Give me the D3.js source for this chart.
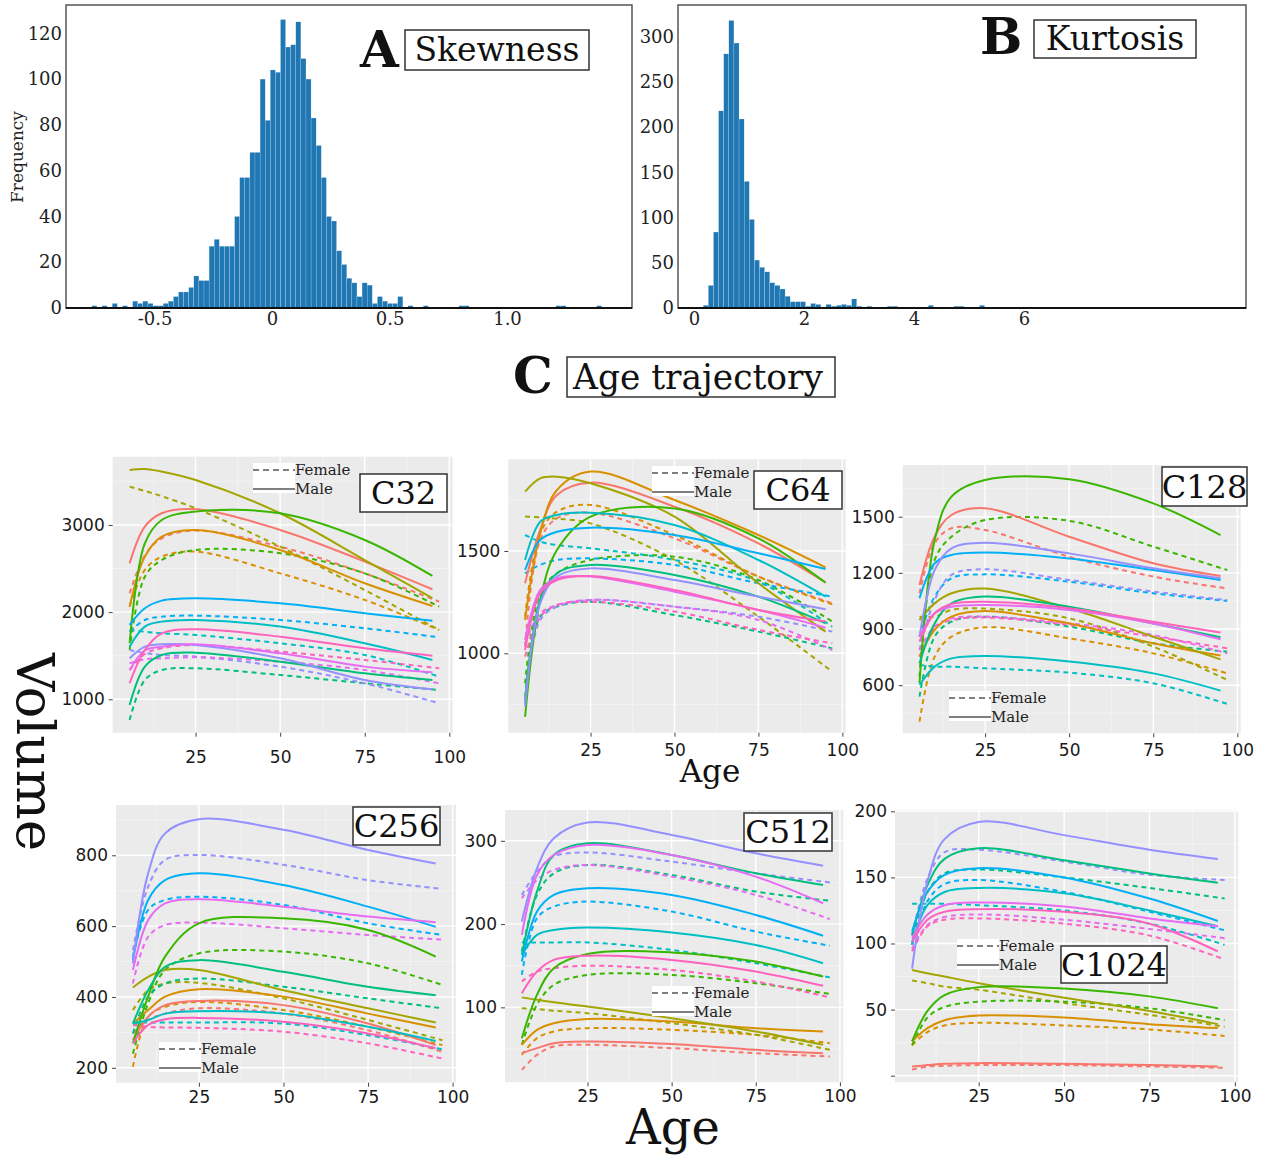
<!DOCTYPE html>
<html>
<head>
<meta charset="utf-8">
<script src="https://cdn.jsdelivr.net/npm/d3@7"></script>
<style>
body { margin: 0; background: #fff; }
</style>
</head>
<body>
<svg id="chart" width="1261" height="1158"></svg>
<script>
// ---- histogram data ----
var skewStart = -0.767, skewBin = 0.0217;
var skewCounts = [1,0,1,0,2,0,1,0,3,2, 3,2,1,1,2,3,5,7,7,9, 14,12,12,27,30,27,27,27,40,57,
    57,68,68,100,82,104,103,126,114,115, 125,109,100,83,71,57,40,38,25,19, 13,11,5,11,10,2,5,3,2,2,
    5,0,1,0,0,1,0,0,0,0, 0,0,1,1,0,0,0,0,0,0, 0,0,0,0,0,0,0,0,0,0, 0,1,1,0,0,0,0,0,0,1];
var skewTicks = [-0.5, 0, 0.5, 1.0];
var skewTickLabels = ["-0.5", "0", "0.5", "1.0"];
var skewYTicks = [0, 20, 40, 60, 80, 100, 120];

var kurtStart = 0.168, kurtBin = 0.093;
var kurtCounts = [3,25,84,218,281,318,293,209,140,98, 53,45,40,28,25,21,13,7,7,7, 2,5,4,1,4,2,3,4,3,10,
    2,1,2,1,1,0,2,2,1,0, 1,0,1,0,3,1,0,1,0,2, 2,0,1,0,3,0,0,1,0,0, 1,0,0,1,1,1,0,0,0,0,
    0,1,1,0,0,0,0,0,0,0, 0,0,0,0,0,0,0,0,0,0, 0,0,0,0,0,0,0,0,0,1];
var kurtTicks = [0, 2, 4, 6];
var kurtYTicks = [0, 50, 100, 150, 200, 250, 300];

// ---- age trajectory data ----
var groupColors = ["#F8766D", "#D89000", "#A3A500", "#39B600", "#00BF7D", "#00BFC4", "#00B0F6", "#9590FF", "#E76BF3", "#FF62BC"];
var agesMale = [5.5, 10, 15, 25, 50, 75, 95];
var agesFemale = [5.5, 10, 15, 25, 50, 75, 97];
var ageTicks = [25, 50, 75, 100];

var c32Male = [
    [2560, 2981, 3134, 3180, 2943, 2580, 2262],
    [2063, 2637, 2866, 2943, 2713, 2331, 2071],
    [3631, 3642, 3612, 3516, 3134, 2598, 2160],
    [1642, 2790, 3057, 3153, 3134, 2828, 2415],
    [935, 1375, 1509, 1535, 1432, 1298, 1222],
    [1604, 1834, 1891, 1910, 1834, 1642, 1451],
    [1853, 2044, 2132, 2159, 2101, 1987, 1902],
    [1470, 1604, 1631, 1623, 1470, 1222, 1115],
    [1336, 1560, 1604, 1631, 1528, 1375, 1310],
    [1184, 1566, 1757, 1803, 1719, 1585, 1501]];
var c32Female = [
    [2216, 2650, 2847, 2935, 2751, 2445, 2120],
    [2063, 2484, 2637, 2694, 2445, 2140, 1795],
    [3440, 3390, 3330, 3191, 2751, 2254, 1795],
    [1566, 2407, 2598, 2713, 2675, 2445, 2063],
    [763, 1222, 1336, 1356, 1279, 1184, 1107],
    [1795, 1775, 1757, 1738, 1642, 1509, 1260],
    [1776, 1910, 1948, 1960, 1910, 1815, 1711],
    [1566, 1530, 1509, 1490, 1375, 1184, 954],
    [1413, 1460, 1470, 1482, 1432, 1336, 1184],
    [1336, 1520, 1585, 1623, 1547, 1451, 1356]];
var c32Ticks = [1000, 2000, 3000];

var c64Male = [
    [1342, 1603, 1774, 1834, 1717, 1537, 1347],
    [1163, 1586, 1798, 1888, 1749, 1578, 1420],
    [1790, 1855, 1863, 1831, 1668, 1342, 1106],
    [690, 1261, 1505, 1668, 1708, 1562, 1345],
    [756, 1261, 1391, 1432, 1383, 1277, 1147],
    [1456, 1643, 1676, 1687, 1627, 1456, 1277],
    [1407, 1554, 1594, 1614, 1578, 1489, 1412],
    [740, 1244, 1375, 1415, 1358, 1277, 1215],
    [1065, 1309, 1366, 1375, 1301, 1212, 1125],
    [1016, 1293, 1358, 1378, 1309, 1212, 1155]];
var c64Female = [
    [1033, 1554, 1660, 1687, 1562, 1375, 1244],
    [1179, 1586, 1692, 1725, 1578, 1375, 1239],
    [1668, 1664, 1658, 1635, 1456, 1179, 910],
    [853, 1293, 1391, 1456, 1472, 1358, 1155],
    [788, 1179, 1228, 1252, 1187, 1106, 1024],
    [1578, 1546, 1529, 1513, 1456, 1350, 1130],
    [1391, 1432, 1456, 1464, 1432, 1342, 1277],
    [772, 1163, 1228, 1261, 1228, 1179, 1106],
    [1049, 1195, 1236, 1261, 1228, 1163, 1016],
    [984, 1179, 1236, 1252, 1204, 1114, 1049]];
var c64Ticks = [1000, 1500];

var c128Male = [
    [1135, 1393, 1509, 1545, 1393, 1251, 1183],
    [752, 895, 966, 996, 930, 824, 758],
    [948, 1037, 1091, 1116, 1011, 859, 738],
    [610, 1375, 1607, 1696, 1700, 1571, 1402],
    [717, 930, 1037, 1073, 1019, 930, 856],
    [601, 699, 743, 756, 726, 663, 571],
    [1064, 1251, 1295, 1308, 1277, 1215, 1162],
    [859, 1215, 1331, 1361, 1304, 1224, 1171],
    [859, 984, 1019, 1028, 1002, 930, 845],
    [832, 984, 1034, 1046, 1011, 939, 881]];
var c128Female = [
    [1091, 1358, 1438, 1429, 1286, 1180, 1117],
    [405, 752, 859, 909, 850, 770, 663],
    [966, 966, 1002, 1009, 957, 806, 628],
    [645, 1269, 1393, 1482, 1478, 1340, 1215],
    [539, 859, 939, 966, 913, 824, 779],
    [708, 699, 699, 690, 667, 610, 500],
    [859, 1073, 1171, 1192, 1153, 1091, 1050],
    [788, 1055, 1189, 1219, 1162, 1100, 1055],
    [788, 913, 957, 966, 930, 868, 770],
    [752, 904, 948, 961, 922, 859, 797]];
var c128Ticks = [600, 900, 1200, 1500];

var c256Male = [
    [278, 344, 377, 389, 377, 325, 264],
    [325, 363, 401, 422, 401, 353, 314],
    [427, 457, 476, 476, 419, 368, 328],
    [269, 401, 514, 608, 622, 589, 514],
    [325, 419, 485, 504, 471, 429, 405],
    [325, 335, 353, 360, 353, 316, 276],
    [504, 674, 730, 749, 716, 655, 598],
    [495, 749, 862, 902, 872, 815, 777],
    [476, 617, 664, 676, 655, 627, 611],
    [269, 321, 337, 341, 330, 297, 255]];
var c256Female = [
    [297, 335, 353, 368, 353, 306, 245],
    [203, 344, 372, 386, 363, 316, 264],
    [363, 419, 438, 440, 396, 335, 278],
    [240, 382, 476, 523, 528, 495, 434],
    [297, 401, 438, 452, 429, 396, 368],
    [328, 328, 328, 328, 325, 292, 252],
    [514, 646, 674, 683, 660, 608, 575],
    [532, 711, 787, 801, 773, 730, 705],
    [438, 570, 603, 610, 594, 575, 562],
    [321, 316, 314, 313, 302, 269, 226]];
var c256Ticks = [200, 400, 600, 800];

var c512Male = [
    [45, 51, 57, 59, 56, 49, 45],
    [55, 73, 81, 86, 83, 75, 71],
    [112, 109, 106, 101, 87, 71, 55],
    [63, 115, 147, 164, 166, 155, 137],
    [163, 239, 283, 297, 283, 261, 247],
    [163, 187, 193, 196, 190, 175, 153],
    [155, 215, 235, 243, 235, 211, 186],
    [203, 267, 303, 322, 307, 285, 270],
    [187, 259, 283, 295, 283, 257, 225],
    [117, 143, 157, 162, 157, 143, 126]];
var c512Female = [
    [25, 43, 53, 55, 51, 45, 41],
    [43, 63, 71, 75, 73, 67, 57],
    [99, 98, 96, 93, 81, 67, 49],
    [55, 103, 127, 139, 139, 129, 116],
    [167, 235, 261, 271, 259, 239, 228],
    [178, 178, 178, 178, 169, 153, 136],
    [139, 207, 221, 227, 215, 191, 174],
    [235, 263, 281, 286, 275, 261, 250],
    [231, 253, 265, 271, 257, 235, 206],
    [131, 143, 147, 150, 145, 131, 112]];
var c512Ticks = [100, 200, 300];

var c1024Male = [
    [7, 8, 9, 9.5, 9, 8, 7],
    [26, 36, 42, 45.5, 44, 39, 36],
    [80, 77.5, 75, 70, 59, 49, 39],
    [26, 49, 61, 67, 66, 60, 51],
    [106, 144, 164, 172, 163, 153, 146],
    [101, 129, 139, 142, 138, 125, 113],
    [109, 139, 152, 157, 150, 134, 117],
    [81, 147, 179, 192, 182, 171, 164],
    [104, 122, 129, 131, 128, 119, 113],
    [101, 118, 124, 126, 124, 115, 94]];
var c1024Female = [
    [4.5, 7, 7.5, 8, 8, 7, 6],
    [23, 33, 38, 40, 38, 35, 30],
    [72, 70, 67.4, 65, 55, 46, 37],
    [23, 44, 52, 56, 56, 51, 42],
    [99, 139, 153, 156, 150, 142, 134],
    [130, 130, 130, 129, 125, 115, 99],
    [99, 132, 145, 148, 139, 124, 110],
    [106, 149, 169, 171, 162, 152, 148],
    [96, 114, 120, 122, 118, 111, 104],
    [94, 113, 118, 119, 115, 106, 88]];
var c1024Ticks = [0, 50, 100, 150, 200];

var serif = "'DejaVu Serif', serif";
var sans = "'DejaVu Sans', sans-serif";
var svg = d3.select("#chart");
svg.append("rect").attr("width", 1261).attr("height", 1158).attr("fill", "white");

/**
    Draws one histogram panel with its frame, tick labels and title
 */
function drawHistogram(opts) {
    var x = d3.scaleLinear().domain(opts.xDomain).range([opts.left, opts.right]);
    var y = d3.scaleLinear().domain(opts.yDomain).range([opts.bottom, opts.yTop]);
    var g = svg.append("g");
    var bins = opts.counts.map(function (c, i) {
        return {x0: opts.start + i * opts.width, x1: opts.start + (i + 1) * opts.width, n: c};
    }).filter(function (b) { return b.n > 0; });
    g.selectAll("rect.bar").data(bins).enter().append("rect")
        .attr("x", function (d) { return x(d.x0); })
        .attr("width", function (d) { return x(d.x1) - x(d.x0); })
        .attr("y", function (d) { return y(d.n); })
        .attr("height", function (d) { return y(0) - y(d.n); })
        .attr("fill", "#1f77b4")
        .attr("stroke", "#ffffff").attr("stroke-width", 0.3).attr("stroke-opacity", 0.6);

    // frame
    g.append("rect").attr("x", opts.left).attr("y", opts.top)
        .attr("width", opts.right - opts.left).attr("height", opts.bottom - opts.top)
        .attr("fill", "none").attr("stroke", "#555").attr("stroke-width", 1.5);
    g.append("line").attr("x1", opts.left).attr("x2", opts.right)
        .attr("y1", opts.bottom).attr("y2", opts.bottom).attr("stroke", "#111").attr("stroke-width", 2);

    var xAxis = g.append("g").attr("transform", "translate(0," + opts.bottom + ")")
        .call(d3.axisBottom(x).tickValues(opts.xTicks).tickSize(0).tickPadding(4)
            .tickFormat(function (d, i) { return opts.xLabels ? opts.xLabels[i] : d; }));
    var yAxis = g.append("g").attr("transform", "translate(" + opts.left + ",0)")
        .call(d3.axisLeft(y).tickValues(opts.yTicks).tickSize(0).tickPadding(4));
    [xAxis, yAxis].forEach(function (a) {
        a.select(".domain").remove();
        a.selectAll("text").attr("font-family", serif).attr("font-size", 18).attr("fill", "#222");
    });

    g.append("text").attr("x", opts.letter[0]).attr("y", opts.letter[1])
        .attr("font-family", serif).attr("font-weight", "bold").attr("font-size", 50)
        .attr("fill", "#111").text(opts.letterText);
    g.append("rect").attr("x", opts.box[0]).attr("y", opts.box[1])
        .attr("width", opts.box[2]).attr("height", opts.box[3])
        .attr("fill", "white").attr("stroke", "#333").attr("stroke-width", 1.5);
    g.append("text").attr("x", opts.box[0] + opts.box[2] / 2).attr("y", opts.box[1] + opts.box[3] / 2 + 11)
        .attr("text-anchor", "middle").attr("font-family", serif).attr("font-size", 33)
        .attr("fill", "#111").text(opts.title);
}

drawHistogram({
    counts: skewCounts, start: skewStart, width: skewBin,
    xDomain: [-0.877, 1.532], yDomain: [0, 120],
    left: 66, right: 632, top: 5, bottom: 308, yTop: 33.3,
    xTicks: skewTicks, xLabels: skewTickLabels, yTicks: skewYTicks,
    letter: [360, 67], letterText: "A", box: [405, 30, 184, 40], title: "Skewness"
});
drawHistogram({
    counts: kurtCounts, start: kurtStart, width: kurtBin,
    xDomain: [-0.291, 10.036], yDomain: [0, 300],
    left: 678, right: 1246, top: 5, bottom: 308, yTop: 36.7,
    xTicks: kurtTicks, yTicks: kurtYTicks,
    letter: [980, 54], letterText: "B", box: [1034, 20, 162, 38], title: "Kurtosis"
});

svg.append("text").attr("transform", "translate(23,157) rotate(-90)")
    .attr("text-anchor", "middle").attr("font-family", serif).attr("font-size", 17)
    .attr("fill", "#222").text("Frequency");

// ---- C title ----
svg.append("text").attr("x", 513).attr("y", 393).attr("font-family", serif)
    .attr("font-weight", "bold").attr("font-size", 50).attr("fill", "#111").text("C");
svg.append("rect").attr("x", 567).attr("y", 357).attr("width", 268).attr("height", 40)
    .attr("fill", "white").attr("stroke", "#333").attr("stroke-width", 1.5);
svg.append("text").attr("x", 573).attr("y", 389).attr("font-family", serif).attr("font-size", 36)
    .attr("textLength", 250).attr("lengthAdjust", "spacingAndGlyphs")
    .attr("fill", "#111").text("Age trajectory");

// ---- trajectory panels ----
var panels = [
    {title: "C32", male: c32Male, female: c32Female, ticks: c32Ticks, yDomain: [617, 3783], xPad: 14,
        x0: 112.7, x1: 452.7, y0: 456.7, y1: 732.7, legend: [253, 463], box: [360, 474, 87, 38]},
    {title: "C64", male: c64Male, female: c64Female, ticks: c64Ticks, yDomain: [612, 1948], xPad: 7,
        x0: 508.3, x1: 845.7, y0: 459.3, y1: 732.7, legend: [652, 466], box: [754, 471, 88, 38]},
    {title: "C128", male: c128Male, female: c128Female, ticks: c128Ticks, yDomain: [343, 1776], xPad: 7,
        x0: 902.7, x1: 1240.7, y0: 465, y1: 733.3, legend: [949, 691], box: [1162, 467, 85, 39]},
    {title: "C256", male: c256Male, female: c256Female, ticks: c256Ticks, yDomain: [158, 942], xPad: 4,
        x0: 116, x1: 456, y0: 805, y1: 1082.7, legend: [159, 1042], box: [353, 807, 87, 38]},
    {title: "C512", male: c512Male, female: c512Female, ticks: c512Ticks, yDomain: [10, 337], xPad: 4,
        x0: 505, x1: 843.3, y0: 810, y1: 1082.3, legend: [652, 986], box: [744, 813, 88, 38]},
    {title: "C1024", male: c1024Male, female: c1024Female, ticks: c1024Ticks, yDomain: [-5, 201], xPad: 4,
        x0: 895, x1: 1238.3, y0: 810, y1: 1082.3, legend: [957, 939], box: [1061, 946, 106, 37], hideZero: true}
];

function drawPanel(p) {
    var x = d3.scaleLinear().domain([0.5, 101]).range([p.x0, p.x1]);
    var y = d3.scaleLinear().domain(p.yDomain).range([p.y1, p.y0]);
    var g = svg.append("g");
    g.append("rect").attr("x", p.x0).attr("y", p.y0).attr("width", p.x1 - p.x0).attr("height", p.y1 - p.y0)
        .attr("fill", "#EBEBEB");

    var step = p.ticks[1] - p.ticks[0];
    var minorY = [];
    for (var v = p.ticks[0] - step / 2; v < p.yDomain[1]; v += step) {
        if (v > p.yDomain[0]) minorY.push(v);
    }
    var minorX = [12.5, 37.5, 62.5, 87.5];
    g.selectAll("line.minx").data(minorX).enter().append("line")
        .attr("x1", x).attr("x2", x).attr("y1", p.y0).attr("y2", p.y1)
        .attr("stroke", "#f7f7f7").attr("stroke-width", 0.7);
    g.selectAll("line.miny").data(minorY).enter().append("line")
        .attr("y1", y).attr("y2", y).attr("x1", p.x0).attr("x2", p.x1)
        .attr("stroke", "#f7f7f7").attr("stroke-width", 0.7);
    g.selectAll("line.majx").data(ageTicks).enter().append("line")
        .attr("x1", x).attr("x2", x).attr("y1", p.y0).attr("y2", p.y1)
        .attr("stroke", "white").attr("stroke-width", 1.4);
    g.selectAll("line.majy").data(p.ticks).enter().append("line")
        .attr("y1", y).attr("y2", y).attr("x1", p.x0).attr("x2", p.x1)
        .attr("stroke", "white").attr("stroke-width", 1.4);

    var line = d3.line().curve(d3.curveCatmullRom.alpha(0.5))
        .x(function (d) { return x(d[0]); }).y(function (d) { return y(d[1]); });
    var series = [];
    p.female.forEach(function (vals, i) {
        series.push({color: groupColors[i], dash: "5,4", pts: d3.zip(agesFemale, vals)});
    });
    p.male.forEach(function (vals, i) {
        series.push({color: groupColors[i], dash: null, pts: d3.zip(agesMale, vals)});
    });
    g.selectAll("path.curve").data(series).enter().append("path")
        .attr("d", function (d) { return line(d.pts); })
        .attr("fill", "none").attr("stroke", function (d) { return d.color; })
        .attr("stroke-width", 2).attr("stroke-dasharray", function (d) { return d.dash; });

    var xAxis = g.append("g").attr("transform", "translate(0," + p.y1 + ")")
        .call(d3.axisBottom(x).tickValues(ageTicks).tickSize(4).tickPadding(p.xPad));
    var yAxis = g.append("g").attr("transform", "translate(" + p.x0 + ",0)")
        .call(d3.axisLeft(y).tickValues(p.ticks).tickSize(4).tickPadding(4)
            .tickFormat(function (d) { return (p.hideZero && d === 0) ? "" : d; }));
    [xAxis, yAxis].forEach(function (a) {
        a.select(".domain").remove();
        a.selectAll("line").attr("stroke", "#444");
        a.selectAll("text").attr("font-family", sans).attr("font-size", 17).attr("fill", "#1a1a1a");
    });

    // legend
    var lx = p.legend[0], ly = p.legend[1];
    g.append("rect").attr("x", lx).attr("y", ly).attr("width", 42).attr("height", 30).attr("fill", "white");
    g.append("line").attr("x1", lx).attr("x2", lx + 42).attr("y1", ly + 7).attr("y2", ly + 7)
        .attr("stroke", "#555").attr("stroke-width", 1.6).attr("stroke-dasharray", "6,4");
    g.append("line").attr("x1", lx).attr("x2", lx + 42).attr("y1", ly + 26).attr("y2", ly + 26)
        .attr("stroke", "#555").attr("stroke-width", 1.6);
    g.append("text").attr("x", lx + 42).attr("y", ly + 12).attr("font-family", serif)
        .attr("font-size", 15).attr("fill", "#222").text("Female");
    g.append("text").attr("x", lx + 42).attr("y", ly + 31).attr("font-family", serif)
        .attr("font-size", 15).attr("fill", "#222").text("Male");

    // panel label box
    g.append("rect").attr("x", p.box[0]).attr("y", p.box[1]).attr("width", p.box[2]).attr("height", p.box[3])
        .attr("fill", "white").attr("stroke", "#333").attr("stroke-width", 1.5);
    g.append("text").attr("x", p.box[0] + p.box[2] / 2).attr("y", p.box[1] + p.box[3] / 2 + 11)
        .attr("text-anchor", "middle").attr("font-family", serif).attr("font-size", 32)
        .attr("fill", "#111").text(p.title);
}

panels.forEach(drawPanel);

// shared axis titles
svg.append("text").attr("transform", "translate(17,752) rotate(90)")
    .attr("text-anchor", "middle").attr("font-family", serif).attr("font-size", 53)
    .attr("fill", "#111").text("Volume");
svg.append("text").attr("x", 710).attr("y", 782).attr("text-anchor", "middle")
    .attr("font-family", serif).attr("font-size", 31).attr("fill", "#111").text("Age");
svg.append("text").attr("x", 673).attr("y", 1144).attr("text-anchor", "middle")
    .attr("font-family", serif).attr("font-size", 48).attr("fill", "#111").text("Age");
</script>
</body>
</html>
